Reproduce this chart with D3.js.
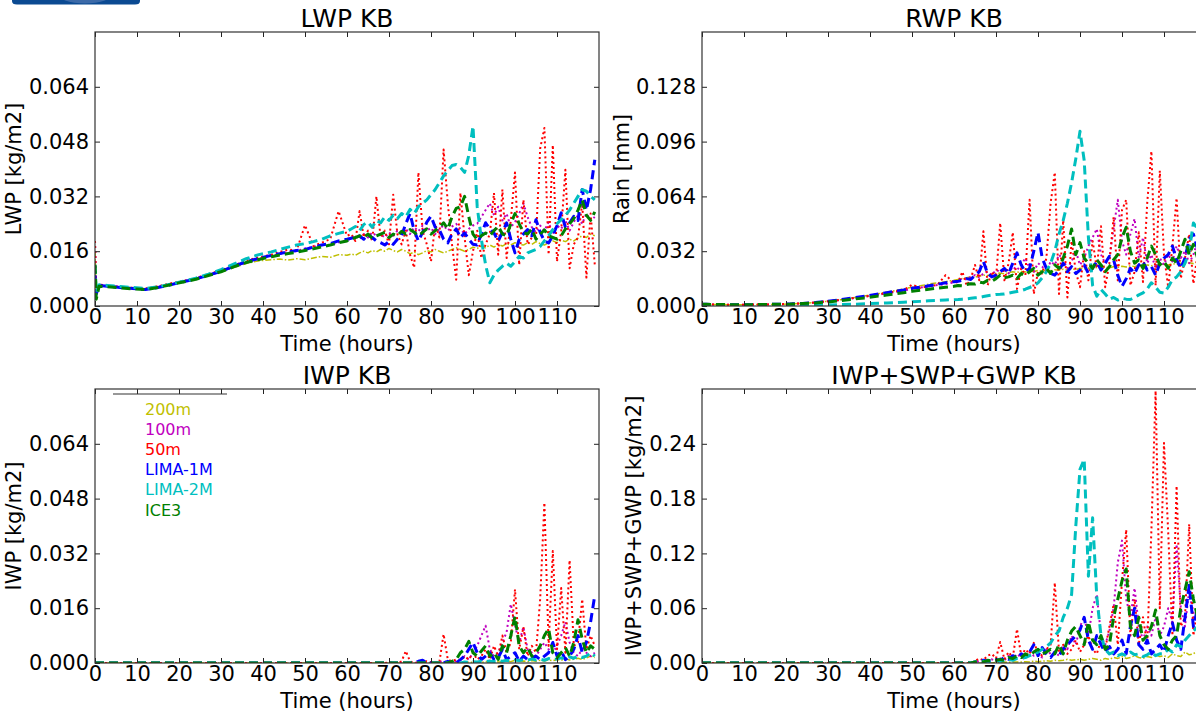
<!DOCTYPE html>
<html>
<head>
<meta charset="utf-8">
<script src="https://cdnjs.cloudflare.com/ajax/libs/d3/7.8.5/d3.min.js"></script>
<style>
  body { margin: 0; background: #fff; }
  text { font-family: "DejaVu Sans", sans-serif; fill: #000; }
</style>
</head>
<body>
<div id="chart"></div>
<script>
// Time axis shared by every series (hours)
var hours = [0, 0.3, 1, 3, 6, 9, 12, 15, 18, 21, 24, 27, 30, 33, 36, 39, 42, 44, 46, 48, 50, 52, 54, 56, 58, 60,
  61, 62, 63, 64, 65, 66, 67, 68, 69, 70,
  71, 72, 73, 74, 75, 76, 77, 78, 79, 80,
  81, 82, 83, 84, 85, 86, 87, 88, 89, 90,
  91, 92, 93, 94, 95, 96, 97, 98, 99, 100,
  101, 102, 103, 104, 105, 106, 107, 108, 109, 110,
  111, 112, 113, 114, 115, 116, 117, 118, 119];

// LWP [kg/m2]
var lwp200 = [0.016,0.004,0.006,0.0058,0.0055,0.0052,0.005,0.0055,0.0063,0.007,0.0078,0.0089,0.0099,0.0112,0.0124,0.0132,0.0135,0.0137,0.0134,0.0138,0.0135,0.014,0.0145,0.0142,0.015,0.0148,
  0.0152,0.0148,0.0155,0.016,0.0155,0.0162,0.0158,0.0165,0.016,0.0168,
  0.0162,0.0158,0.0165,0.016,0.0152,0.0158,0.015,0.0155,0.0162,0.0158,
  0.0165,0.016,0.0155,0.016,0.0165,0.017,0.0165,0.016,0.0165,0.0172,
  0.0168,0.0175,0.017,0.0178,0.0172,0.018,0.0175,0.0182,0.0178,0.0185,
  0.018,0.0178,0.0185,0.018,0.0188,0.0182,0.0178,0.0185,0.019,0.0185,
  0.0192,0.0188,0.0195,0.019,0.0198,0.0205,0.02,0.021,0.0205];
var lwp100 = [0.019,0.004,0.0062,0.0058,0.0055,0.0052,0.0049,0.0056,0.0064,0.0071,0.0081,0.0091,0.0102,0.0116,0.0128,0.0138,0.0146,0.0152,0.0158,0.016,0.0168,0.0172,0.018,0.0178,0.0186,0.0192,
  0.0198,0.0205,0.0195,0.021,0.02,0.0215,0.0205,0.021,0.02,0.0215,
  0.0205,0.022,0.021,0.0225,0.021,0.023,0.0218,0.0235,0.022,0.0228,
  0.021,0.0225,0.0235,0.022,0.0232,0.024,0.0225,0.021,0.0225,0.0235,
  0.024,0.026,0.028,0.03,0.0265,0.029,0.025,0.027,0.023,0.0245,
  0.027,0.03,0.026,0.023,0.0215,0.0235,0.022,0.0245,0.021,0.0235,
  0.0225,0.025,0.022,0.0245,0.0265,0.024,0.027,0.025,0.026];
var lwp50 = [0.019,0.005,0.0063,0.0059,0.0056,0.0053,0.0051,0.0058,0.0066,0.0073,0.0082,0.0093,0.0104,0.0118,0.0133,0.0142,0.015,0.0158,0.0165,0.0162,0.0236,0.0175,0.0185,0.0195,0.0277,0.0205,
  0.021,0.019,0.0277,0.02,0.022,0.019,0.032,0.02,0.022,0.018,
  0.0325,0.021,0.018,0.022,0.015,0.0112,0.039,0.022,0.018,0.013,
  0.024,0.02,0.0457,0.03,0.018,0.0077,0.033,0.02,0.009,0.016,
  0.022,0.014,0.018,0.021,0.033,0.015,0.034,0.014,0.025,0.039,
  0.012,0.031,0.018,0.02,0.02,0.046,0.052,0.015,0.047,0.013,
  0.022,0.0398,0.011,0.018,0.02,0.03,0.0083,0.027,0.012];
var lwp1m = [0.009,0.0035,0.006,0.0058,0.0054,0.0051,0.0048,0.0054,0.0062,0.0071,0.0079,0.009,0.0101,0.0116,0.0129,0.0139,0.0148,0.0153,0.0158,0.0162,0.0165,0.0172,0.0178,0.0182,0.019,0.0195,
  0.0198,0.02,0.0205,0.0195,0.0208,0.02,0.019,0.0185,0.0178,0.0188,
  0.018,0.0195,0.0205,0.024,0.027,0.022,0.019,0.0215,0.0245,0.0262,
  0.023,0.0222,0.0195,0.0184,0.021,0.0225,0.02,0.0213,0.0195,0.018,
  0.0178,0.021,0.0243,0.0225,0.0213,0.019,0.0215,0.0243,0.0195,0.0155,
  0.0194,0.021,0.0223,0.0205,0.0252,0.0215,0.019,0.0184,0.0205,0.0235,
  0.0272,0.023,0.0243,0.0262,0.025,0.034,0.028,0.034,0.0427];
var lwp2m = [0.012,0.004,0.0062,0.006,0.0057,0.0054,0.0051,0.0056,0.0064,0.0072,0.0081,0.0093,0.0106,0.0122,0.0138,0.015,0.0158,0.0165,0.0172,0.0178,0.0182,0.0188,0.0195,0.0205,0.0212,0.0218,
  0.0225,0.0232,0.022,0.0238,0.0245,0.023,0.025,0.0243,0.026,0.025,
  0.0265,0.0255,0.027,0.026,0.0282,0.027,0.029,0.03,0.031,0.0325,
  0.034,0.036,0.038,0.0395,0.041,0.0413,0.0405,0.039,0.044,0.0525,
  0.029,0.0194,0.012,0.0068,0.009,0.0105,0.0116,0.0125,0.0116,0.013,
  0.0145,0.014,0.0155,0.016,0.0165,0.0174,0.019,0.0205,0.0223,0.024,
  0.0252,0.0265,0.028,0.03,0.032,0.034,0.0335,0.032,0.031];
var lwpIce3 = [0.012,0.002,0.0058,0.0056,0.0053,0.005,0.0048,0.0054,0.0062,0.007,0.0078,0.0089,0.01,0.0114,0.0127,0.0136,0.0144,0.0149,0.0153,0.0157,0.0162,0.0167,0.0173,0.0178,0.0185,0.019,
  0.0195,0.02,0.0205,0.02,0.021,0.0198,0.0205,0.021,0.0215,0.02,
  0.021,0.0205,0.0218,0.021,0.0223,0.0215,0.0205,0.0215,0.0225,0.021,
  0.022,0.023,0.0243,0.0225,0.026,0.0285,0.029,0.032,0.026,0.021,
  0.0194,0.0205,0.0213,0.0205,0.022,0.0233,0.021,0.0205,0.024,0.027,
  0.024,0.0215,0.021,0.0225,0.0195,0.021,0.0222,0.0205,0.02,0.0195,
  0.0205,0.0225,0.024,0.0255,0.028,0.031,0.0265,0.025,0.0275];

// RWP [mm]
var rwp200 = [0.001,0.001,0.001,0.0009,0.0008,0.0008,0.0008,0.0009,0.001,0.0012,0.0015,0.002,0.0028,0.0037,0.0048,0.006,0.0072,0.0082,0.009,0.01,0.011,0.0118,0.0128,0.0135,0.0142,0.015,
  0.0155,0.016,0.0165,0.017,0.0168,0.0175,0.018,0.0178,0.0185,0.019,
  0.0192,0.0188,0.0195,0.02,0.0196,0.0202,0.0198,0.0205,0.02,0.0208,
  0.0204,0.021,0.0205,0.0212,0.0208,0.0215,0.021,0.0218,0.0212,0.022,
  0.0215,0.0222,0.0218,0.0225,0.022,0.0228,0.0222,0.023,0.0225,0.0232,
  0.0228,0.0235,0.023,0.0238,0.0232,0.024,0.0235,0.0242,0.0238,0.0245,
  0.024,0.0248,0.0242,0.025,0.0245,0.0252,0.0248,0.0255,0.025];
var rwp100 = [0.001,0.001,0.001,0.0009,0.0008,0.0008,0.0008,0.0009,0.001,0.0012,0.0015,0.002,0.0027,0.0035,0.0045,0.0056,0.0066,0.0075,0.0082,0.0092,0.0098,0.0108,0.0113,0.0122,0.0128,0.0138,
  0.015,0.016,0.0155,0.017,0.018,0.0165,0.019,0.02,0.018,0.021,
  0.02,0.022,0.019,0.023,0.021,0.024,0.028,0.022,0.02,0.025,
  0.023,0.02,0.026,0.024,0.03,0.027,0.022,0.026,0.032,0.024,
  0.028,0.035,0.04,0.045,0.03,0.025,0.028,0.045,0.062,0.038,
  0.03,0.042,0.051,0.028,0.04,0.025,0.03,0.022,0.028,0.024,
  0.03,0.026,0.035,0.028,0.032,0.025,0.03,0.038,0.028];
var rwp50 = [0.001,0.001,0.001,0.0009,0.0008,0.0008,0.0008,0.0009,0.001,0.0012,0.0016,0.0021,0.0028,0.0036,0.0046,0.0055,0.0068,0.0076,0.0085,0.0092,0.0125,0.0105,0.0116,0.0122,0.018,0.0135,
  0.014,0.02,0.012,0.016,0.024,0.015,0.0436,0.012,0.02,0.016,
  0.0485,0.015,0.025,0.043,0.01,0.022,0.018,0.062,0.007,0.02,
  0.019,0.028,0.06,0.078,0.007,0.05,0.005,0.038,0.02,0.011,
  0.032,0.015,0.038,0.022,0.0466,0.011,0.025,0.052,0.015,0.056,
  0.062,0.012,0.02,0.043,0.014,0.06,0.0904,0.012,0.079,0.03,
  0.011,0.035,0.063,0.016,0.028,0.042,0.013,0.03,0.022];
var rwp1m = [0.001,0.001,0.001,0.0009,0.0008,0.0008,0.0008,0.0009,0.001,0.0012,0.0015,0.002,0.0028,0.0037,0.0048,0.0058,0.007,0.0078,0.0086,0.0094,0.0104,0.011,0.0118,0.0126,0.0136,0.0142,
  0.0145,0.015,0.016,0.0155,0.018,0.02,0.026,0.019,0.017,0.018,
  0.02,0.022,0.019,0.025,0.031,0.024,0.02,0.022,0.032,0.043,
  0.028,0.022,0.019,0.018,0.021,0.025,0.02,0.023,0.019,0.021,
  0.024,0.019,0.022,0.026,0.021,0.025,0.029,0.027,0.018,0.0115,
  0.016,0.022,0.019,0.024,0.026,0.021,0.023,0.018,0.025,0.028,
  0.03,0.035,0.027,0.022,0.028,0.039,0.042,0.033,0.035];
var rwp2m = [0.0005,0.0005,0.0005,0.0004,0.0004,0.0004,0.0004,0.0004,0.0004,0.0004,0.0005,0.0005,0.0006,0.0008,0.001,0.0013,0.0016,0.0018,0.002,0.0022,0.0025,0.0027,0.003,0.0032,0.0035,0.0037,
  0.0038,0.004,0.0042,0.0045,0.0048,0.005,0.0055,0.006,0.0063,0.0067,
  0.0068,0.007,0.0075,0.008,0.0085,0.009,0.0098,0.0108,0.0118,0.0135,
  0.0165,0.02,0.025,0.032,0.042,0.05,0.06,0.072,0.086,0.102,
  0.085,0.04,0.012,0.0057,0.0096,0.007,0.004,0.005,0.0035,0.0045,
  0.004,0.0038,0.005,0.0065,0.0076,0.01,0.0136,0.011,0.008,0.0076,
  0.011,0.0154,0.017,0.02,0.025,0.032,0.0485,0.045,0.05];
var rwpIce3 = [0.001,0.001,0.001,0.0009,0.0008,0.0008,0.0008,0.0009,0.001,0.0011,0.0014,0.0018,0.0024,0.0031,0.004,0.0048,0.0058,0.0064,0.0071,0.0078,0.0086,0.0092,0.0098,0.0104,0.011,0.0115,
  0.012,0.0118,0.0125,0.013,0.0128,0.014,0.0135,0.015,0.0145,0.016,
  0.018,0.0165,0.017,0.018,0.016,0.019,0.018,0.02,0.022,0.018,
  0.02,0.022,0.019,0.024,0.022,0.028,0.035,0.045,0.03,0.037,
  0.028,0.025,0.022,0.027,0.024,0.02,0.023,0.027,0.03,0.04,
  0.046,0.032,0.025,0.027,0.022,0.028,0.035,0.03,0.024,0.026,
  0.022,0.028,0.025,0.032,0.039,0.03,0.036,0.028,0.032];

// IWP [kg/m2]
var iwp200 = [0,0,0,0,0,0,0,0,0,0,0,0,0,0,0,0,0,0,0,0,0,0,0,0,0,0,
  0,0,0,0,0,0,0,0,0,0,
  0,0,0,0,0,0,0,0,0,0,
  0,0,0,0,0,0.0002,0,0,0.0003,0.0002,
  0.0003,0.0002,0.0004,0.0003,0.0005,0.0003,0.0004,0.0006,0.0004,0.0008,
  0.0005,0.0006,0.0004,0.0007,0.0005,0.0008,0.0006,0.0009,0.0007,0.001,
  0.0008,0.0012,0.0009,0.0011,0.0014,0.001,0.0015,0.002,0.0016];
var iwp100 = [0,0,0,0,0,0,0,0,0,0,0,0,0,0,0,0,0,0,0,0,0,0,0,0,0,0,
  0,0,0,0,0,0,0,0,0,0,
  0,0,0,0,0,0,0,0,0,0.0002,
  0,0.0003,0.0005,0.0002,0.0004,0.0005,0.001,0.002,0.001,0.003,
  0.005,0.008,0.0109,0.004,0.002,0.003,0.006,0.009,0.0172,0.011,
  0.006,0.0105,0.004,0.003,0.002,0.004,0.006,0.004,0.003,0.005,
  0.008,0.012,0.006,0.003,0.002,0.004,0.003,0.002,0.003];
var iwp50 = [0,0,0,0,0,0,0,0,0,0,0,0,0,0,0,0,0,0,0,0,0,0,0,0,0,0,
  0,0,0,0,0,0,0,0,0,0.0002,
  0,0,0.0005,0.0035,0.0005,0,0.0002,0,0.0005,0.0002,
  0,0.0003,0.0084,0.001,0.0005,0.001,0.0008,0.002,0.001,0.003,
  0.001,0.002,0.004,0.001,0.005,0.002,0.008,0.003,0.006,0.0215,
  0.004,0.0105,0.002,0.005,0.003,0.0188,0.0468,0.005,0.0327,0.004,
  0.0219,0.003,0.03,0.005,0.006,0.0186,0.004,0.008,0.005];
var iwp1m = [0,0,0,0,0,0,0,0,0,0,0,0,0,0,0,0,0,0,0,0,0,0,0,0,0,0,
  0,0,0,0,0,0,0,0,0,0,
  0,0,0,0,0,0,0.0005,0.0008,0,0,
  0,0,0,0.0005,0,0,0.001,0.002,0.004,0.006,
  0.003,0.001,0.002,0.003,0.001,0.0015,0.004,0.001,0.002,0.003,
  0.0005,0.002,0.001,0.0015,0.002,0.001,0.002,0.003,0.006,0.002,
  0.0035,0.001,0.002,0.004,0.008,0.003,0.006,0.012,0.0198];
var iwp2m = [0,0,0,0,0,0,0,0,0,0,0,0,0,0,0,0,0,0,0,0,0,0,0,0,0,0,
  0,0,0,0,0,0,0,0,0,0,
  0,0,0,0,0,0,0,0,0,0,
  0,0,0,0,0,0,0,0.0003,0.0002,0.0004,
  0.0003,0.0005,0.0004,0.0006,0.0004,0.0007,0.0005,0.0008,0.0006,0.0009,
  0.0007,0.001,0.0008,0.0012,0.0009,0.0011,0.0008,0.0013,0.001,0.0012,
  0.0015,0.0012,0.0018,0.0014,0.002,0.0016,0.002,0.003,0.002];
var iwpIce3 = [0,0,0,0,0,0,0,0,0,0,0,0,0,0,0,0,0,0,0,0,0,0,0,0,0,0,
  0,0,0,0,0,0,0,0,0,0,
  0,0,0,0,0,0,0,0,0,0,
  0,0,0,0,0.0005,0.001,0.003,0.004,0.0063,0.003,
  0.002,0.0035,0.005,0.002,0.003,0.001,0.005,0.003,0.008,0.0136,
  0.005,0.003,0.0045,0.002,0.003,0.005,0.008,0.01,0.003,0.0015,
  0.003,0.0045,0.002,0.006,0.0126,0.007,0.003,0.005,0.004];

// IWP+SWP+GWP [kg/m2]
var tot200 = [0,0,0,0,0,0,0,0,0,0,0,0,0,0,0,0,0,0,0,0,0,0,0,0,0,0,
  0,0,0,0,0,0,0,0,0,0.0005,
  0.0005,0.001,0.0008,0.001,0.0012,0.001,0.0015,0.0012,0.002,0.0015,
  0.002,0.0025,0.002,0.003,0.0025,0.003,0.004,0.003,0.0035,0.004,
  0.003,0.004,0.005,0.004,0.003,0.005,0.004,0.006,0.005,0.007,
  0.005,0.006,0.008,0.006,0.005,0.007,0.006,0.009,0.007,0.008,
  0.006,0.01,0.008,0.007,0.012,0.009,0.01,0.014,0.011];
var tot100 = [0,0,0,0,0,0,0,0,0,0,0,0,0,0,0,0,0,0,0,0,0,0,0,0,0,0,
  0,0,0,0,0.001,0.002,0.001,0.003,0.004,0.002,
  0.005,0.003,0.008,0.004,0.01,0.006,0.005,0.012,0.008,0.01,
  0.006,0.015,0.01,0.012,0.008,0.02,0.015,0.03,0.02,0.04,
  0.05,0.03,0.06,0.075,0.03,0.02,0.035,0.06,0.11,0.134,
  0.07,0.05,0.082,0.04,0.025,0.04,0.03,0.05,0.03,0.04,
  0.06,0.045,0.13,0.06,0.04,0.08,0.05,0.06,0.04];
var tot50 = [0,0,0,0,0,0,0,0,0,0,0,0,0,0,0,0,0,0,0,0,0,0,0,0,0,0,
  0,0,0,0,0.002,0.005,0.003,0.008,0.01,0.005,
  0.023,0.004,0.012,0.006,0.037,0.008,0.015,0.01,0.022,0.012,
  0.008,0.015,0.02,0.088,0.012,0.02,0.01,0.015,0.025,0.012,
  0.02,0.03,0.015,0.01,0.025,0.015,0.04,0.064,0.02,0.09,
  0.146,0.03,0.07,0.02,0.05,0.02,0.145,0.298,0.06,0.241,
  0.143,0.03,0.194,0.04,0.05,0.152,0.03,0.06,0.04];
var tot1m = [0,0,0,0,0,0,0,0,0,0,0,0,0,0,0,0,0,0,0,0,0,0,0,0,0,0,
  0,0,0,0,0.001,0.002,0.003,0.002,0.003,0.004,
  0.003,0.006,0.004,0.008,0.006,0.01,0.007,0.012,0.02,0.008,
  0.017,0.01,0.006,0.012,0.008,0.015,0.02,0.025,0.03,0.036,
  0.05,0.025,0.015,0.03,0.02,0.012,0.018,0.01,0.015,0.025,
  0.01,0.04,0.06,0.02,0.015,0.025,0.01,0.015,0.02,0.012,
  0.03,0.044,0.025,0.015,0.05,0.085,0.04,0.06,0.03];
var tot2m = [0,0,0,0,0,0,0,0,0,0,0,0,0,0,0,0,0,0,0,0,0,0,0,0,0,0,
  0,0,0,0,0.001,0.001,0.002,0.001,0.002,0.003,
  0.002,0.003,0.004,0.003,0.005,0.005,0.006,0.008,0.01,0.012,
  0.015,0.018,0.022,0.03,0.035,0.05,0.06,0.075,0.15,0.212,
  0.223,0.095,0.159,0.072,0.03,0.015,0.01,0.012,0.008,0.01,
  0.008,0.012,0.009,0.01,0.007,0.009,0.012,0.008,0.01,0.01,
  0.015,0.012,0.02,0.018,0.025,0.03,0.035,0.04,0.04];
var totIce3 = [0,0,0,0,0,0,0,0,0,0,0,0,0,0,0,0,0,0,0,0,0,0,0,0,0,0,
  0,0,0,0,0.001,0.002,0.001,0.003,0.002,0.003,
  0.004,0.003,0.006,0.005,0.008,0.006,0.01,0.008,0.012,0.015,
  0.01,0.012,0.015,0.01,0.02,0.01,0.025,0.035,0.04,0.03,
  0.02,0.045,0.025,0.02,0.03,0.015,0.02,0.05,0.07,0.09,
  0.103,0.04,0.03,0.05,0.025,0.03,0.04,0.058,0.03,0.02,
  0.015,0.025,0.03,0.06,0.08,0.1,0.07,0.05,0.09];

// Runs (legend order)
var runNames = ['200m', '100m', '50m', 'LIMA-1M', 'LIMA-2M', 'ICE3'];
var runColors = ['#bfbf00', '#bf00bf', '#ff0000', '#0000ff', '#00bfbf', '#008000'];
var runDash = ['6,2,1.5,2', '2,3', '2,3', '9,5', '9,5', '9,5'];
var runWidth = [1.5, 2, 2, 3, 3, 3];

// Tick values
var xTicks = [0, 10, 20, 30, 40, 50, 60, 70, 80, 90, 100, 110];
var yTicksWP = [0, 0.016, 0.032, 0.048, 0.064];
var yTicksRain = [0, 0.032, 0.064, 0.096, 0.128];
var yTicksTot = [0, 0.06, 0.12, 0.18, 0.24];

// Panel sizes
var width = 504;
var height = 274;
var fontSize = 21;

var panels = [
  { title: 'LWP KB', ylabel: 'LWP [kg/m2]', ymax: 0.08, yticks: yTicksWP, fmt: '.3f', left: 95, top: 32, labelX: 21,
    series: [lwp200, lwp100, lwp50, lwp1m, lwp2m, lwpIce3] },
  { title: 'RWP KB', ylabel: 'Rain [mm]', ymax: 0.16, yticks: yTicksRain, fmt: '.3f', left: 702, top: 32, labelX: 629,
    series: [rwp200, rwp100, rwp50, rwp1m, rwp2m, rwpIce3] },
  { title: 'IWP KB', ylabel: 'IWP [kg/m2]', ymax: 0.08, yticks: yTicksWP, fmt: '.3f', left: 95, top: 389, labelX: 21,
    series: [iwp200, iwp100, iwp50, iwp1m, iwp2m, iwpIce3], legend: true },
  { title: 'IWP+SWP+GWP KB', ylabel: 'IWP+SWP+GWP [kg/m2]', ymax: 0.3, yticks: yTicksTot, fmt: '.2f', left: 702, top: 389, labelX: 641,
    series: [tot200, tot100, tot50, tot1m, tot2m, totIce3] }
];

var svg = d3.select('#chart').append('svg')
    .attr('width', 1196)
    .attr('height', 714)
    .style('display', 'block');

// Logo fragment peeking in at the top-left corner
var logoClip = svg.append('clipPath').attr('id', 'logoClip');
logoClip.append('path').attr('d', 'M12,0 H140 V1 Q140,4.5 135,4.5 H17 Q12,4.5 12,1 Z');
var logo = svg.append('g').attr('clip-path', 'url(#logoClip)');
logo.append('rect').attr('x', 0).attr('y', 0).attr('width', 150).attr('height', 6).attr('fill', '#0b4a92');
logo.append('ellipse').attr('cx', 85).attr('cy', -7).attr('rx', 28).attr('ry', 10.5).attr('fill', '#3c6aa8');

var x = d3.scaleLinear().domain([0, 120]).range([0, width]);

panels.forEach(function (p, k) {
  var g = svg.append('g').attr('transform', 'translate(' + p.left + ',' + p.top + ')');
  var y = d3.scaleLinear().domain([0, p.ymax]).range([height, 0]);

  // Clip the lines to the plot area
  g.append('clipPath').attr('id', 'clip' + k)
    .append('rect').attr('width', width).attr('height', height);
  var plot = g.append('g').attr('clip-path', 'url(#clip' + k + ')');

  var line = d3.line()
      .x(function (d) { return x(d[0]); })
      .y(function (d) { return y(d[1]); });

  p.series.forEach(function (vals, i) {
    plot.append('path')
      .datum(d3.zip(hours, vals))
      .attr('fill', 'none')
      .attr('stroke', runColors[i])
      .attr('stroke-width', runWidth[i])
      .attr('stroke-dasharray', runDash[i])
      .attr('stroke-linejoin', 'round')
      .attr('d', line);
  });

  // Axes with inward ticks on all four sides
  var xAxis = g.append('g')
    .attr('transform', 'translate(0,' + height + ')')
    .call(d3.axisBottom(x).tickValues(xTicks).tickSizeInner(-5).tickSizeOuter(0).tickPadding(3));
  g.append('g')
    .call(d3.axisTop(x).tickValues(xTicks).tickSizeInner(-5).tickSizeOuter(0).tickFormat(''));
  var yAxis = g.append('g')
    .call(d3.axisLeft(y).tickValues(p.yticks).tickSizeInner(-5).tickSizeOuter(0).tickPadding(6).tickFormat(d3.format(p.fmt)));
  g.append('g')
    .attr('transform', 'translate(' + width + ',0)')
    .call(d3.axisRight(y).tickValues(p.yticks).tickSizeInner(-5).tickSizeOuter(0).tickFormat(''));

  g.selectAll('.domain').remove();
  g.selectAll('.tick line').attr('stroke', '#222');
  g.selectAll('.tick text')
    .attr('font-family', 'DejaVu Sans, sans-serif')
    .attr('font-size', fontSize)
    .attr('fill', '#000');

  // Frame
  g.append('rect')
    .attr('width', width)
    .attr('height', height)
    .attr('fill', 'none')
    .attr('stroke', '#333')
    .attr('stroke-width', 1.2);

  // Title and axis labels
  g.append('text')
    .attr('x', width / 2)
    .attr('y', -5)
    .attr('text-anchor', 'middle')
    .style('font-size', '25px')
    .text(p.title);
  g.append('text')
    .attr('x', width / 2)
    .attr('y', height + 45)
    .attr('text-anchor', 'middle')
    .style('font-size', fontSize + 'px')
    .text('Time (hours)');
  svg.append('text')
    .attr('transform', 'translate(' + p.labelX + ',' + (p.top + height / 2) + ') rotate(-90)')
    .attr('text-anchor', 'middle')
    .style('font-size', fontSize + 'px')
    .text(p.ylabel);

  // Legend (text only, coloured by run)
  if (p.legend) {
    g.append('line')
      .attr('x1', 18).attr('x2', 132)
      .attr('y1', 5).attr('y2', 5)
      .attr('stroke', '#333')
      .attr('stroke-width', 1.2);
    runNames.forEach(function (name, i) {
      g.append('text')
        .attr('x', 50)
        .attr('y', 26 + i * 20.1)
        .style('font-size', '16px')
        .style('fill', runColors[i])
        .text(name);
    });
  }
});
</script>
</body>
</html>
